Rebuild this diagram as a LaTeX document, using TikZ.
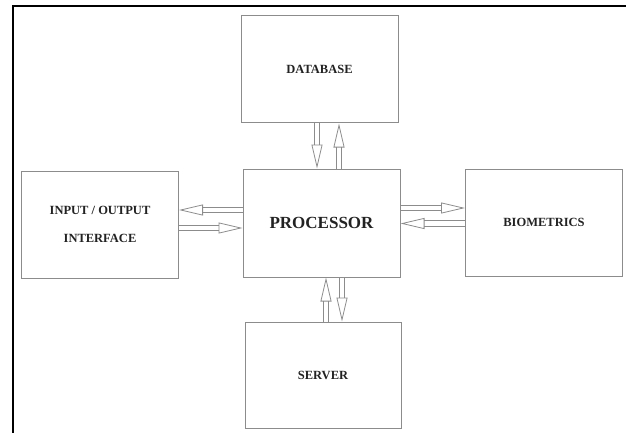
\documentclass[tikz,border=0pt]{standalone}
\usepackage{fontspec}
\setmainfont{Liberation Serif}
\usetikzlibrary{arrows.meta, positioning}
\definecolor{BoxGray}{HTML}{8C8C8C}
\definecolor{TextBlack}{HTML}{222222}

\begin{document}
\begin{tikzpicture}[x=1pt, y=-1pt,
    block/.style={draw=BoxGray, line width=1pt, minimum width=157pt, minimum height=107pt, inner sep=0pt, text=TextBlack, align=center, font=\bfseries\fontsize{12.5}{28}\selectfont},
    flow/.style={draw=BoxGray, line width=0.8pt, double=white, double distance=4.5pt, -{Triangle[open, length=24pt, width=11pt]}}]
    \useasboundingbox (0,0) rectangle (626,433);
    % frame of the page
    \draw[line width=2pt] (13,433) -- (13,6) -- (626,6);

    % Five blocks
    \node[block] (db) at (319.5,69.5) {DATABASE};
    \node[block] (io) at (100,224.5) {INPUT / OUTPUT\\INTERFACE};
    \node[block, minimum height=108pt, font=\bfseries\fontsize{17}{20}\selectfont] (proc) at (321.5,223) {PROCESSOR};
    \node[block] (bio) at (544,222.5) {BIOMETRICS};
    \node[block, minimum width=156pt, minimum height=106pt] (srv) at (323,375) {SERVER};

    % Anchor points for the arrow pairs
    \path (db.south) ++(-2.5,0) coordinate (dbA) ++(22,0) coordinate (dbB);
    \path (srv.north) ++(3,0) coordinate (srvA) ++(16,0) coordinate (srvB);
    \path (io.east) ++(0,-14.5) coordinate (ioA) ++(0,18) coordinate (ioB);
    \path (bio.west) ++(0,-14.5) coordinate (bioA) ++(0,15.5) coordinate (bioB);

    % Hollow arrows
    \draw[flow] (dbA) -- (dbA |- proc.north);
    \draw[flow] (dbB |- proc.north) -- (dbB);
    \draw[flow] (srvA) -- (srvA |- proc.south);
    \draw[flow] (srvB |- proc.south) -- (srvB);
    \draw[flow] (ioA -| proc.west) -- (ioA);
    \draw[flow] (ioB) -- (ioB -| proc.west);
    \draw[flow] (bioA -| proc.east) -- (bioA);
    \draw[flow] (bioB) -- (bioB -| proc.east);
\end{tikzpicture}
\end{document}
